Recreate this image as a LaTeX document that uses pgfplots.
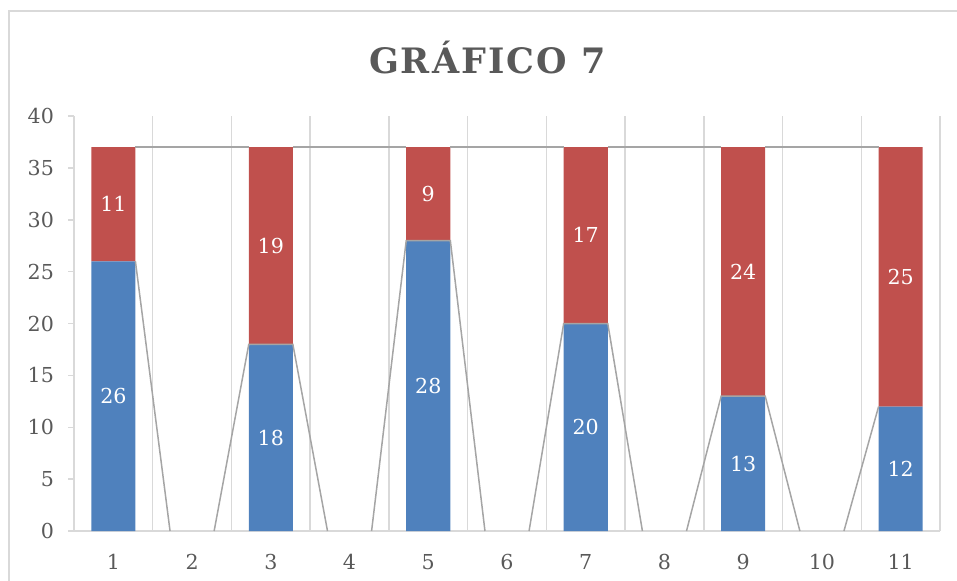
\documentclass[border=0pt]{standalone}
\usepackage{fontspec}
\setmainfont{DejaVu Serif}
\usepackage{pgfplots}
\pgfplotsset{compat=1.18}
\definecolor{blueS}{HTML}{4F81BD}
\definecolor{redS}{HTML}{C0504D}
\definecolor{gridc}{HTML}{D9D9D9}
\definecolor{txt}{HTML}{595959}
\definecolor{serl}{HTML}{A5A5A5}
\pgfplotsset{
  base/.style={
    at={(37pt,24.5pt)}, anchor=south west,
    scale only axis, width=433pt, height=207.5pt,
    xmin=0.5, xmax=11.5, ymin=0, ymax=40,
  },
}
\begin{document}
\begin{tikzpicture}
\useasboundingbox (0,0) rectangle (478.5pt,290pt);
\draw[gridc, line width=0.8pt] (4.5pt,-10pt) |- (490pt,284.5pt);
\node[txt, anchor=base, font={\fontsize{17.5}{20}\selectfont\bfseries\addfontfeatures{LetterSpace=6}}]
  at (243.75pt,253.5pt) {GRÁFICO 7};

% bars, grid and axes
\begin{axis}[
  base,
  ybar stacked,
  bar width=0.56,
  axis x line*=bottom, axis y line*=left,
  x axis line style={-, gridc, line width=0.75pt},
  y axis line style={-, gridc, line width=0.75pt},
  xtick={1,...,11},
  xtick style={draw=none},
  minor xtick={0.5,1.5,...,11.5},
  xminorgrids,
  minor x grid style={gridc, line width=0.75pt},
  ytick={0,5,...,40},
  ytick style={gridc, line width=0.75pt},
  tick align=outside,
  major tick length=3pt,
  ticklabel style={txt, font=\fontsize{10.3}{12}\selectfont},
  /pgf/number format/assume math mode=true,
  xticklabel style={yshift=-5pt},
  yticklabel style={xshift=-3.5pt},
]
  \addplot[fill=blueS, draw=none] coordinates {
    (1,26) (3,18) (5,28) (7,20) (9,13) (11,12)
  };
  \addplot[fill=redS, draw=none] coordinates {
    (1,11) (3,19) (5,9) (7,17) (9,24) (11,25)
  };
\end{axis}

% series lines and data labels
\begin{axis}[
  base,
  hide axis,
  unbounded coords=jump,
]
  \addplot[serl, line width=0.75pt] coordinates {
    (1.28,26) (1.72,0) (2,nan) (2.28,0) (2.72,18) (3.28,18) (3.72,0) (4,nan) (4.28,0) (4.72,28)
    (5.28,28) (5.72,0) (6,nan) (6.28,0) (6.72,20) (7.28,20) (7.72,0) (8,nan) (8.28,0) (8.72,13)
    (9.28,13) (9.72,0) (10,nan) (10.28,0) (10.72,12)
  };
  \addplot[serl, line width=0.75pt] coordinates {
    (1.28,37) (2.72,37) (3,nan) (3.28,37) (4.72,37) (5,nan) (5.28,37) (6.72,37)
    (7,nan) (7.28,37) (8.72,37) (9,nan) (9.28,37) (10.72,37)
  };
  \addplot[draw=none, nodes near coords, point meta=explicit symbolic,
    every node near coord/.style={white, anchor=center, font=\fontsize{10.3}{12}\selectfont}]
    coordinates {
    (1,13) [26] (3,9) [18] (5,14) [28] (7,10) [20] (9,6.5) [13] (11,6) [12]
    (1,31.5) [11] (3,27.5) [19] (5,32.5) [9] (7,28.5) [17] (9,25) [24] (11,24.5) [25]
  };
\end{axis}
\end{tikzpicture}
\end{document}
